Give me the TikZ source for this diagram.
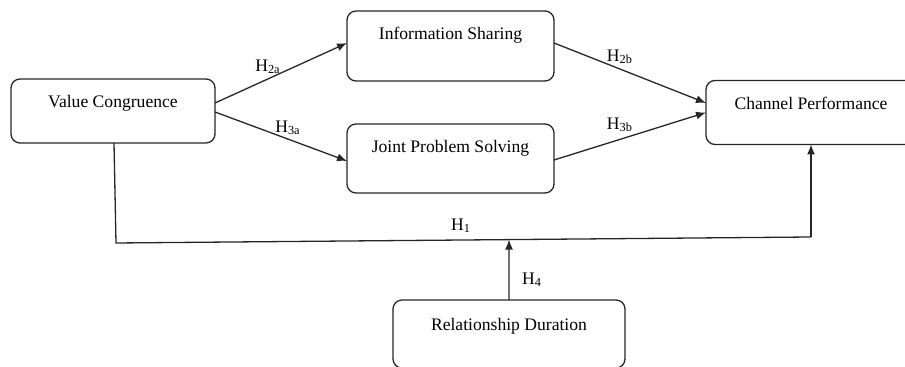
\documentclass[tikz,border=0pt]{standalone}
\usepackage{fontspec}
\setmainfont{Liberation Serif}
\usetikzlibrary{arrows.meta,calc}
\begin{document}
\begin{tikzpicture}[x=0.5pt,y=-0.5pt,
  box/.style={draw=black!85,line width=0.65pt,rounded corners=4.5pt,inner sep=0pt,outer sep=0pt,
    font=\fontsize{8.8pt}{10pt}\selectfont,text height=6pt,text depth=9pt},
  tallbox/.style={box,text depth=12pt},
  conn/.style={draw=black!85,line width=0.65pt,-{Latex[length=5pt,width=4pt]}},
  line/.style={draw=black!85,line width=0.65pt},
  hyp/.style={font=\fontsize{8.8pt}{10pt}\selectfont,inner sep=0pt}]
\useasboundingbox (0,0) rectangle (905,367);
\node[box,minimum width=102pt,minimum height=32pt] (vc) at (113,111) {Value Congruence};
\node[tallbox,minimum width=103.5pt,minimum height=35pt] (is) at (450.5,46) {Information Sharing};
\node[tallbox,minimum width=103.5pt,minimum height=34.5pt] (jps) at (450.5,158.5) {Joint Problem Solving};
\node[box,minimum width=105pt,minimum height=32pt] (cp) at (811,112.5) {Channel Performance};
\node[box,minimum width=116pt,minimum height=34pt] (rd) at (509,334) {Relationship Duration};
\draw[conn] ([yshift=4pt]vc.east) -- ([yshift=1.5pt]is.west);
\draw[conn] ([yshift=-0.5pt]vc.east) -- ([yshift=-1.25pt]jps.west);
\draw[conn] ([yshift=1.5pt]is.east) -- ([yshift=4.75pt]cp.west);
\draw[conn] ([yshift=-0.75pt]jps.east) -- ([yshift=0pt]cp.west);
\coordinate (c1) at (116,243);
\coordinate (c2) at (811,237);
\draw[line] ([xshift=0.5pt]vc.south) -- (c1) -- (c2);
\draw[conn] (c2) -- (cp.south);
\path (c1) -- (c2) coordinate[pos=0.5655] (m);
\draw[conn] (rd.north) -- (m);
\node[hyp] (h2a) at (268,67) {H\textsubscript{2a}};
\node[hyp] (h3a) at (288,128) {H\textsubscript{3a}};
\node[hyp] (h2b) at (620,57) {H\textsubscript{2b}};
\node[hyp] (h3b) at (620,125) {H\textsubscript{3b}};
\node[hyp] (h1) at (461,226) {H\textsubscript{1}};
\node[hyp] (h4) at (532,280) {H\textsubscript{4}};
\end{tikzpicture}
\end{document}
